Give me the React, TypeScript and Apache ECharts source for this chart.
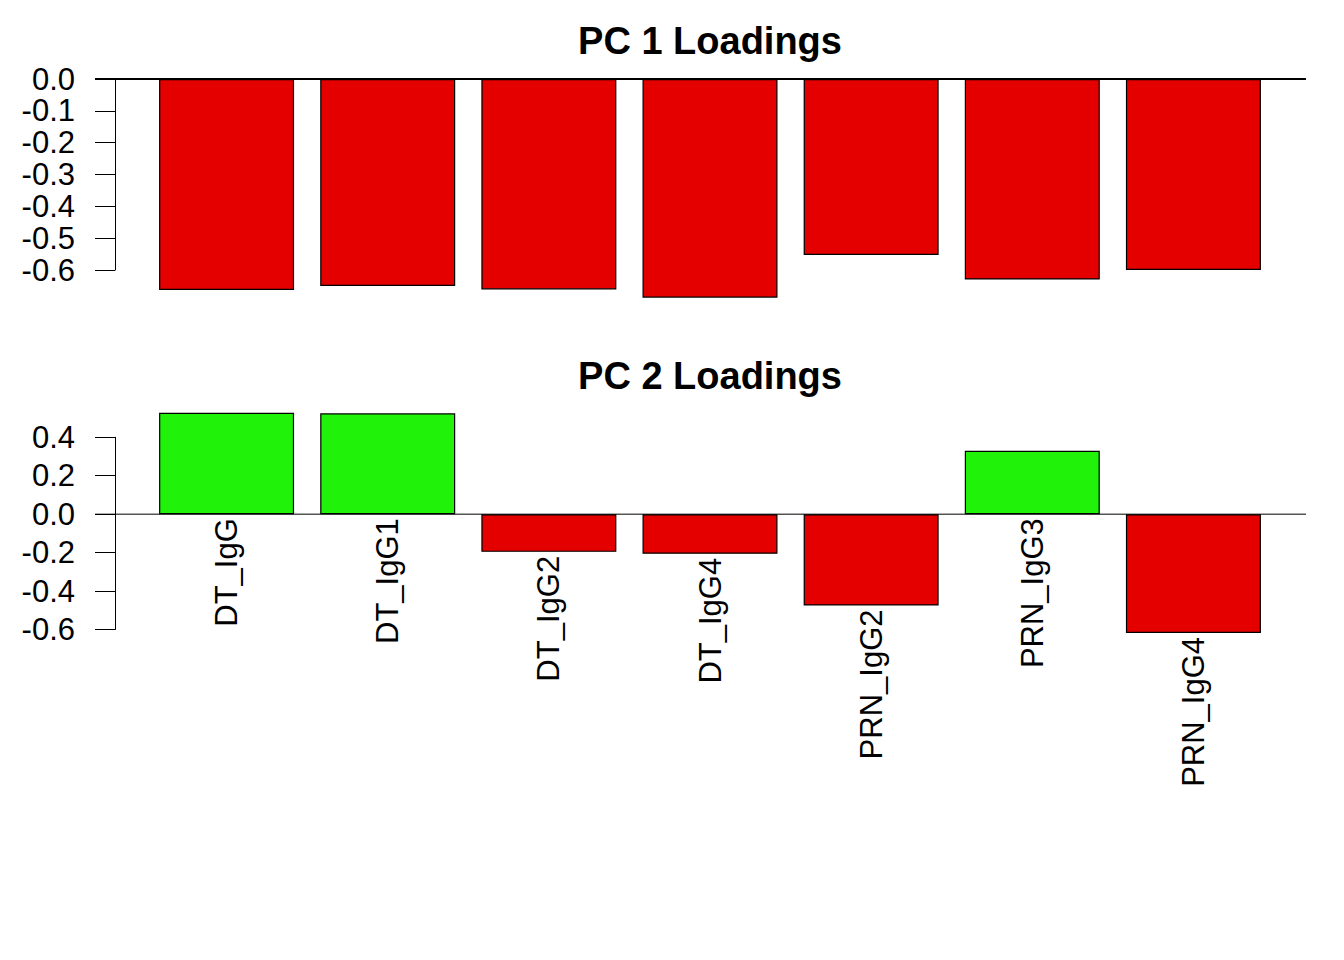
import React, { useEffect, useRef } from "react";
import * as echarts from "echarts";

// ---- data ----
const categories = ["DT_IgG", "DT_IgG1", "DT_IgG2", "DT_IgG4", "PRN_IgG2", "PRN_IgG3", "PRN_IgG4"];
const pc1Loadings = [-0.663, -0.65, -0.661, -0.687, -0.553, -0.63, -0.6];
const pc2Loadings = [0.528, 0.525, -0.196, -0.206, -0.475, 0.33, -0.618];
const panelTitles = ["PC 1 Loadings", "PC 2 Loadings"];
const pc1AxisMin = -0.6;
const pc1AxisMax = 0;
const pc1AxisStep = 0.1;
const pc2AxisMin = -0.6;
const pc2AxisMax = 0.4;
const pc2AxisStep = 0.2;

// ---- styling / layout ----
const WIDTH = 1344;
const HEIGHT = 960;
const FONT = '"Liberation Sans", Arial, Helvetica, sans-serif';
const RED = "#e50000";
const GREEN = "#20f20a";
const GRID_LEFT = 146;
const GRID_WIDTH = 1128;
const AXIS_OFFSET = 31;
const LINE_EXT_LEFT = 51;
const LINE_EXT_RIGHT = 32;
const TITLE_X = 710;

const fmt = (v: number) => (Math.abs(v) < 1e-9 ? "0.0" : v.toFixed(1));

function yAxisDef(gridIndex: number, min: number, max: number, interval: number) {
  return {
    type: "value",
    gridIndex,
    min,
    max,
    interval,
    position: "left",
    offset: AXIS_OFFSET,
    axisLine: { show: true, lineStyle: { color: "#000", width: 1 } },
    axisTick: { show: true, length: 20, lineStyle: { color: "#000", width: 1 } },
    axisLabel: { margin: 40, fontSize: 31, color: "#000", fontFamily: FONT, formatter: fmt },
    splitLine: { show: false },
  };
}

function barData(values: number[]) {
  return values.map((v) => ({ value: v, itemStyle: { color: v >= 0 ? GREEN : RED } }));
}

export default function App() {
  const ref = useRef<HTMLDivElement>(null);

  useEffect(() => {
    document.body.style.margin = "0";
    if (!ref.current) return;
    const chart = echarts.init(ref.current, undefined, { renderer: "svg" });

    chart.setOption({
      animation: false,
      backgroundColor: "#fff",
      grid: [
        { left: GRID_LEFT, width: GRID_WIDTH, top: 79, height: 191, outerBoundsMode: "none" },
        { left: GRID_LEFT, width: GRID_WIDTH, top: 437.3, height: 192.2, outerBoundsMode: "none" },
      ],
      xAxis: [
        { type: "category", gridIndex: 0, data: categories, show: false },
        { type: "category", gridIndex: 1, data: categories, show: false },
      ],
      yAxis: [
        yAxisDef(0, pc1AxisMin, pc1AxisMax, pc1AxisStep),
        yAxisDef(1, pc2AxisMin, pc2AxisMax, pc2AxisStep),
      ],
      series: [
        {
          type: "bar",
          xAxisIndex: 0,
          yAxisIndex: 0,
          data: barData(pc1Loadings),
          barWidth: 135,
          clip: false,
          itemStyle: { borderColor: "#000", borderWidth: 1.2 },
        },
        {
          type: "bar",
          xAxisIndex: 1,
          yAxisIndex: 1,
          data: barData(pc2Loadings),
          barWidth: 135,
          clip: false,
          itemStyle: { borderColor: "#000", borderWidth: 1.2 },
          label: {
            show: true,
            position: "bottom",
            distance: 4,
            rotate: 90,
            align: "right",
            verticalAlign: "middle",
            fontSize: 31,
            color: "#000",
            fontFamily: FONT,
            formatter: (p: any) => p.name,
          },
        },
      ],
    });

    const zero1 = chart.convertToPixel({ yAxisIndex: 0 }, 0) as number;
    const zero2 = chart.convertToPixel({ yAxisIndex: 1 }, 0) as number;
    const x1 = GRID_LEFT - LINE_EXT_LEFT;
    const x2 = GRID_LEFT + GRID_WIDTH + LINE_EXT_RIGHT;

    chart.setOption({
      graphic: [
        {
          type: "line",
          id: "zero1",
          z: 10,
          shape: { x1, y1: zero1, x2, y2: zero1 },
          style: { stroke: "#000", lineWidth: 2 },
        },
        {
          type: "line",
          id: "zero2",
          z: 10,
          shape: { x1, y1: zero2, x2, y2: zero2 },
          style: { stroke: "#000", lineWidth: 1 },
        },
        {
          type: "text",
          id: "t1",
          x: TITLE_X,
          y: 41,
          style: {
            text: panelTitles[0],
            textAlign: "center",
            textVerticalAlign: "middle",
            font: `bold 38px ${FONT}`,
            fill: "#000",
          },
        },
        {
          type: "text",
          id: "t2",
          x: TITLE_X,
          y: 376,
          style: {
            text: panelTitles[1],
            textAlign: "center",
            textVerticalAlign: "middle",
            font: `bold 38px ${FONT}`,
            fill: "#000",
          },
        },
      ],
    });

    return () => chart.dispose();
  }, []);

  return <div ref={ref} style={{ width: WIDTH, height: HEIGHT }} />;
}
